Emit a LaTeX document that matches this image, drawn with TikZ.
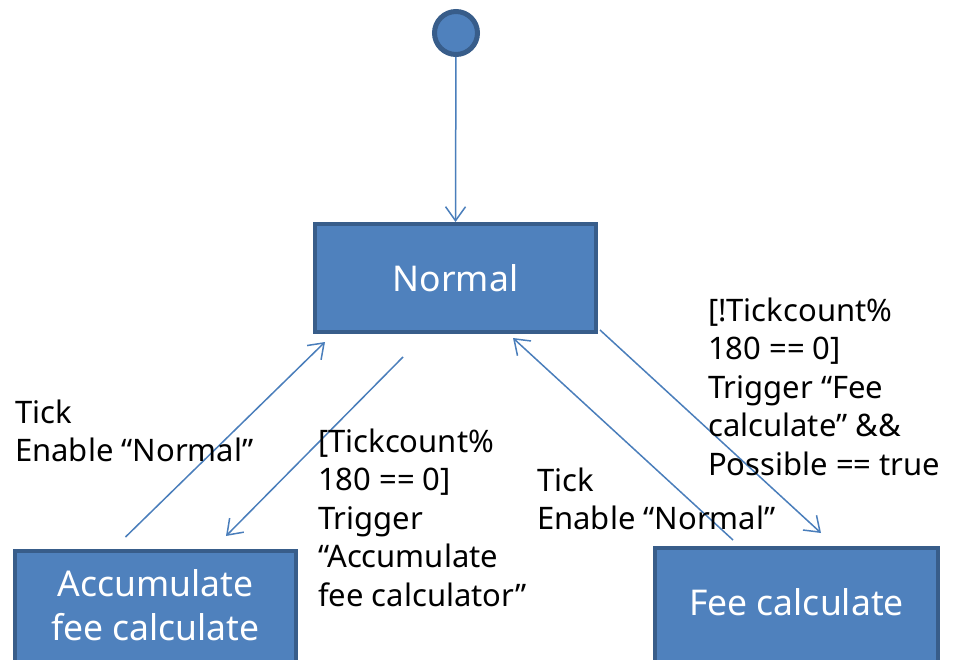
\documentclass[tikz,border=0pt]{standalone}
\usepackage{fontspec}
\setmainfont{Noto Sans}
\usetikzlibrary{arrows.meta}
\definecolor{stfill}{HTML}{4F81BD}
\definecolor{stline}{HTML}{385D8A}
\definecolor{trline}{HTML}{4A7EBB}

\begin{document}
\begin{tikzpicture}[x=1pt,y=-1pt,
			state/.style={draw=stline,fill=stfill,line width=4pt,rectangle,minimum width=281pt,minimum height=108pt,
				text=white,align=center,font=\fontsize{35.5}{44}\selectfont},
			cutstate/.style={state,minimum height=124pt,
				label={[text=white,align=center,font=\fontsize{35.5}{44}\selectfont,yshift=8pt]center:#1}},
			start/.style={draw=stline,fill=stfill,line width=5pt,circle,minimum size=43pt,inner sep=0pt},
			trans/.style={draw=trline,line width=1.5pt,-{Straight Barb[length=14pt,width=20pt,line width=1.5pt]}},
			guard/.style={inner sep=0pt,align=left,anchor=base west,font=\fontsize{31}{38.5}\selectfont}]
			\useasboundingbox (0,0) rectangle (953,660);
			\node (init) [start] at (456,33) {};
			\node (normal) [state] at (455.5,278) {Normal};
			\node (acc) [cutstate={Accumulate\\fee calculate}] at (155.5,613) {};
			\node (fee) [cutstate={Fee calculate},minimum width=283pt] at (796.5,610) {};
			\draw [trans] (init) -- (normal.north);
			\draw [trans] ([shift={(-30,-12)}]acc.north) -- ([shift={(-130.5,8)}]normal.south);
			\draw [trans] ([shift={(-52.5,23)}]normal.south) -- ([shift={(70.5,-13)}]acc.north);
			\draw [trans] ([shift={(-63.5,-6)}]fee.north) -- ([shift={(57.5,4)}]normal.south);
			\draw [trans] ([shift={(2,-4)}]normal.south east) -- ([shift={(24.5,-13)}]fee.north);
			\node (tickacc) [guard] at (15,461.5) {Tick\\Enable “Normal”};
			\node (toacc) [guard] at (318,606) {[Tickcount\%\\180 == 0]\\Trigger\\“Accumulate\\fee calculator”};
			\node (tickfee) [guard] at (537,529.5) {Tick\\Enable “Normal”};
			\node (tofee) [guard] at (708,475) {[!Tickcount\%\\180 == 0]\\Trigger “Fee\\calculate” \&\&\\Possible == true};
		\end{tikzpicture}
\end{document}
